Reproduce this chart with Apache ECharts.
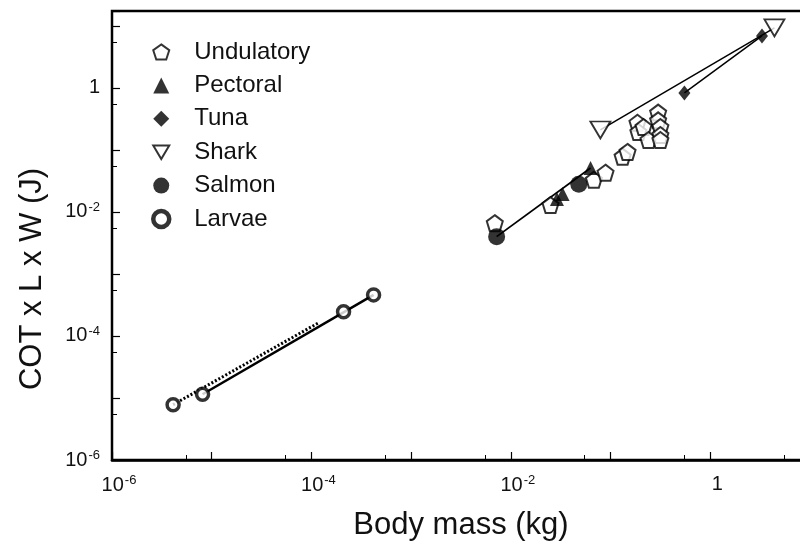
<!DOCTYPE html>
<html lang="en">
<head>
<meta charset="UTF-8">
<title>COT x L x W vs body mass</title>
<script src="https://cdn.jsdelivr.net/npm/echarts@6/dist/echarts.min.js"></script>
<style>
    html, body { margin: 0; padding: 0; background: #fff; }
    #chart { width: 800px; height: 551px; }
</style>
</head>
<body>
<div id="chart"></div>
<script>
// values (kg, J)
var undulatoryMass = [0.0069, 0.025, 0.068, 0.089, 0.132, 0.148, 0.186, 0.19, 0.214, 0.24, 0.30, 0.30, 0.316, 0.316, 0.316];
var undulatoryCost = [0.0066, 0.0129, 0.033, 0.043, 0.078, 0.093, 0.275, 0.195, 0.234, 0.145, 0.40, 0.30, 0.234, 0.174, 0.145];
var pectoralMass = [0.029, 0.033, 0.063];
var pectoralCost = [0.0162, 0.0195, 0.051];
var tunaMass = [0.55, 3.3];
var tunaCost = [0.83, 6.9];
var sharkMass = [0.079, 4.4];
var sharkCost = [0.21, 9.3];
var salmonMass = [0.0072, 0.048];
var salmonCost = [0.0040, 0.028];
var larvaeMass = [4.1e-6, 8.1e-6, 2.1e-4, 4.2e-4];
var larvaeCost = [7.8e-6, 1.15e-5, 2.45e-4, 4.6e-4];

// regression lines (end points)
var larvaeFitMass = [8.1e-6, 4.2e-4];
var larvaeFitCost = [1.15e-5, 4.6e-4];
var larvaeAltMass = [4.1e-6, 1.17e-4];
var larvaeAltCost = [7.8e-6, 1.62e-4];
var smallFishMass = [0.0072, 0.063];
var smallFishCost = [0.0040, 0.051];
var sharkFitMass = [0.079, 4.4];
var sharkFitCost = [0.21, 9.3];
var tunaFitMass = [0.55, 3.3];
var tunaFitCost = [0.83, 6.9];

var names = ['Undulatory', 'Pectoral', 'Tuna', 'Shark', 'Salmon', 'Larvae'];

function pairs(xs, ys) {
    return xs.map(function (x, i) { return [x, ys[i]]; });
}

var font = 'Liberation Sans, Arial, sans-serif';
var pentagon = 'path://M10,0 L19.5,6.9 L15.9,18.1 L4.1,18.1 L0.5,6.9 Z';
var downTri = 'path://M0,0 L20,0 L10,17 Z';
var openStyle = {color: '#fff', borderColor: '#000', borderWidth: 2};
var fillStyle = {color: '#000'};

function expLabel(v) {
    var l = Math.log10(v);
    var e = Math.round(l);
    if (Math.abs(l - e) > 1e-6 || e % 2 !== 0) return '';
    if (e === 0) return '1';
    return '10{s|' + e + '}';
}

var labelRich = {
    s: {fontSize: 13, fontFamily: font, color: '#111', verticalAlign: 'top', padding: [0, 0, 10, 1]}
};

function fitLine(xs, ys, width, type) {
    return {
        type: 'line', data: pairs(xs, ys), symbol: 'none', z: 2, silent: true,
        lineStyle: {color: '#000', width: width, type: type || 'solid'}
    };
}

var chart = echarts.init(document.getElementById('chart'));
var option = {
    backgroundColor: '#fff',
    animation: false,
    grid: {left: 112, right: -10, top: 11, bottom: 91, outerBoundsMode: 'none',
        show: true, borderColor: '#000', borderWidth: 2.5},
    legend: {
        orient: 'vertical', left: 146, top: 34, itemGap: 7.4,
        itemWidth: 16, itemHeight: 16,
        textStyle: {fontSize: 24, fontFamily: font, color: '#111', lineHeight: 26, padding: [0, 0, 0, 20]},
        data: [
            {name: 'Undulatory'}, {name: 'Pectoral'}, {name: 'Tuna'}, {name: 'Shark'}, {name: 'Salmon'},
            {name: 'Larvae', itemStyle: {borderWidth: 4.5}}
        ]
    },
    xAxis: {
        type: 'log', logBase: 10, min: 1e-6, max: 10, splitNumber: 7,
        name: 'Body mass (kg)', nameLocation: 'middle', nameGap: 50,
        nameTextStyle: {fontSize: 31, fontFamily: font, color: '#111'},
        axisLine: {lineStyle: {color: '#000', width: 2.5}},
        axisTick: {inside: true, length: 8, lineStyle: {color: '#000', width: 1.2}},
        minorTick: {show: true, splitNumber: 2, length: 5, lineStyle: {color: '#000', width: 1}},
        splitLine: {show: false},
        axisLabel: {formatter: expLabel, rich: labelRich, fontSize: 20, fontFamily: font, color: '#111', margin: 14, padding: [0, 0, 0, 14]}
    },
    yAxis: {
        type: 'log', logBase: 10, min: 1e-6, max: 17.4, splitNumber: 7,
        axisLine: {lineStyle: {color: '#000', width: 2}},
        axisTick: {inside: true, length: 8, lineStyle: {color: '#000', width: 1.2}},
        minorTick: {show: true, splitNumber: 2, length: 5, lineStyle: {color: '#000', width: 1}},
        splitLine: {show: false},
        axisLabel: {formatter: expLabel, rich: labelRich, fontSize: 20, fontFamily: font, color: '#111', margin: 12}
    },
    graphic: [{
        type: 'text', x: 32, y: 279, rotation: Math.PI / 2,
        style: {text: 'COT x L x W (J)', fontSize: 31, fontFamily: font, fill: '#111', align: 'center', verticalAlign: 'middle'}
    }],
    series: [
        fitLine(larvaeFitMass, larvaeFitCost, 2.5),
        fitLine(larvaeAltMass, larvaeAltCost, 3, [2, 2]),
        fitLine(smallFishMass, smallFishCost, 1.8),
        fitLine(sharkFitMass, sharkFitCost, 1.5),
        fitLine(tunaFitMass, tunaFitCost, 1.5),
        {name: 'Undulatory', type: 'scatter', z: 3, data: pairs(undulatoryMass, undulatoryCost),
            symbol: pentagon, symbolSize: 16, itemStyle: openStyle},
        {name: 'Pectoral', type: 'scatter', z: 4, data: pairs(pectoralMass, pectoralCost),
            symbol: 'triangle', symbolSize: 14, itemStyle: fillStyle},
        {name: 'Tuna', type: 'scatter', z: 4, data: pairs(tunaMass, tunaCost),
            symbol: 'diamond', symbolSize: [12, 15], itemStyle: fillStyle},
        {name: 'Shark', type: 'scatter', z: 3, data: pairs(sharkMass, sharkCost),
            symbol: downTri, symbolSize: [20, 17], itemStyle: {color: '#fff', borderColor: '#000', borderWidth: 1.8}},
        {name: 'Salmon', type: 'scatter', z: 4, data: pairs(salmonMass, salmonCost),
            symbol: 'circle', symbolSize: 17, itemStyle: fillStyle},
        {name: 'Larvae', type: 'scatter', z: 4, data: pairs(larvaeMass, larvaeCost),
            symbol: 'circle', symbolSize: 12, itemStyle: {color: '#fff', borderColor: '#000', borderWidth: 3.5}}
    ]
};
chart.setOption(option);
</script>
</body>
</html>
